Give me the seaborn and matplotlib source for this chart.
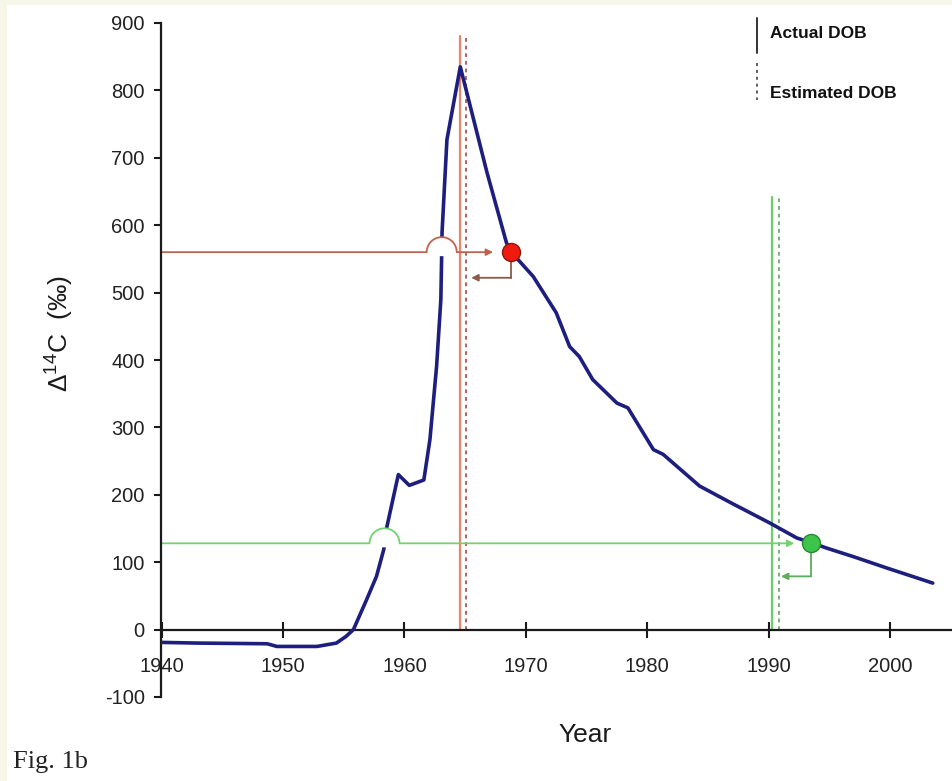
import numpy as np
import pandas as pd
import matplotlib
matplotlib.use("Agg")
import matplotlib.pyplot as plt
from matplotlib.lines import Line2D
from matplotlib.patches import Polygon, Rectangle
import seaborn as sns

# ---- data ----
years = [1940, 1943, 1948.7, 1949.5, 1952.8, 1954.4, 1955.2, 1955.8, 1956.9, 1957.7,
         1958.3, 1958.5, 1959.5, 1960.4, 1961.6, 1962.1, 1962.65, 1963.0, 1963.1,
         1963.5, 1964.6, 1966.8, 1968.4, 1968.8, 1969.5, 1970.6, 1972.5, 1973.6,
         1974.4, 1975.5, 1977.5, 1978.4, 1980.5, 1981.3, 1984.3, 1987.0, 1990.1,
         1992.3, 1993.5, 1994.75, 1997.0, 1999.7, 2003.5]
delta14c = [-19, -20, -21, -25, -25, -20, -10, 0, 45, 79,
            119, 148, 230, 214, 222, 282, 391, 490, 590,
            727, 835, 678, 574, 560, 546, 524, 470, 420,
            405, 371, 336, 329, 267, 260, 213, 187, 158,
            136, 129, 121, 108, 91.5, 69]

# case 1 (red) and case 2 (green)
case_level = [560, 128]          # measured Δ14C
case_year = [1968.8, 1993.5]     # where the measured value meets the falling limb
actual_dob = [1964.55, 1990.25]
estimated_dob = [1965.1, 1990.8]
vline_top = [880, 642]
hline_arrow_end = [1967.3, 1992.1]
elbow_bottom = [522, 79]
elbow_arrow_end = [1965.5, 1991.0]

x_ticks = [1940, 1950, 1960, 1970, 1980, 1990, 2000]
y_ticks = [-100, 0, 100, 200, 300, 400, 500, 600, 700, 800, 900]

# ---- styling ----
sns.set_theme(style="white")
plt.rcParams['font.family'] = ['Liberation Sans', 'DejaVu Sans']
plt.rcParams['mathtext.fontset'] = 'custom'
plt.rcParams['mathtext.rm'] = 'Liberation Sans'

W, H = 953, 781
fig = plt.figure(figsize=(W / 100, H / 100), dpi=100)
fig.patch.set_facecolor('#f7f7e9')
fig.add_artist(Rectangle((7 / W, 0), 1, 1 - 5 / H, transform=fig.transFigure,
                         facecolor='white', edgecolor='none', zorder=-10))

left, right = 161.5 / W, 951 / W
bottom, top = 1 - 697 / H, 1 - 23 / H
ax = fig.add_axes([left, bottom, right - left, top - bottom])
ax.set_facecolor('none')
XMIN, XMAX, YMIN, YMAX = 1940, 2005, -100, 900
ax.set_xlim(XMIN, XMAX)
ax.set_ylim(YMIN, YMAX)

df = pd.DataFrame({"Year": years, "D14C": delta14c})

reds = dict(h='#c0624f', v='#e8866a', vd='#9a3a30', arrow='#d83a2a', elbow='#8a5a48',
            dot='#f01a10', dotedge='#8a1a10')
greens = dict(h='#72d272', v='#6ccf6c', vd='#4e9e4e', arrow='#5cbc5c', elbow='#5cae5c',
              dot='#3cc54a', dotedge='#2a8a30')
palettes = [reds, greens]

# vertical DOB lines and horizontal lines (behind curve)
for i, pal in enumerate(palettes):
    ax.plot([actual_dob[i]] * 2, [0, vline_top[i]], color=pal['v'], lw=1.6, zorder=2)
    ax.plot([estimated_dob[i]] * 2, [0, vline_top[i]], color=pal['vd'], lw=1.1,
            ls=(0, (2.5, 2.5)), zorder=2)
    ax.annotate('', xy=(hline_arrow_end[i], case_level[i]), xytext=(XMIN, case_level[i]),
                arrowprops=dict(arrowstyle='-|>', color=pal['h'], lw=1.3,
                                mutation_scale=10, shrinkA=0, shrinkB=0), zorder=2)
    # elbow arrow from dot down and left
    ax.plot([case_year[i], case_year[i]], [case_level[i], elbow_bottom[i]],
            color=pal['elbow'], lw=1.3, zorder=2)
    ax.annotate('', xy=(elbow_arrow_end[i], elbow_bottom[i]),
                xytext=(case_year[i], elbow_bottom[i]),
                arrowprops=dict(arrowstyle='-|>', color=pal['elbow'], lw=1.3,
                                mutation_scale=10, shrinkA=0, shrinkB=0), zorder=2)

# the bomb curve
sns.lineplot(data=df, x="Year", y="D14C", sort=False, estimator=None,
             color='#1e1e7e', lw=2.6, ax=ax, zorder=3)

# hops where horizontal lines jump over the rising limb
px_per_x = ax.bbox.width / (XMAX - XMIN)
px_per_y = ax.bbox.height / (YMAX - YMIN)
r_px = 15
rx, ry = r_px / px_per_x, r_px / px_per_y
yrs = np.array(years)
vals = np.array(delta14c)
rise = yrs <= 1964.6
for i, pal in enumerate(palettes):
    cx = np.interp(case_level[i], vals[rise], yrs[rise])
    cy = case_level[i]
    t = np.linspace(0, np.pi, 60)
    ax_ = cx + rx * np.cos(t)
    ay_ = cy + ry * np.sin(t)
    poly = np.column_stack([np.r_[ax_, cx - rx, cx + rx],
                            np.r_[ay_, cy - 4 / px_per_y, cy - 4 / px_per_y]])
    ax.add_patch(Polygon(poly, closed=True, facecolor='white', edgecolor='none', zorder=4))
    ax.plot(ax_, ay_, color=pal['h'], lw=1.3, zorder=5)

# measured points
for i, pal in enumerate(palettes):
    ax.plot([case_year[i]], [case_level[i]], 'o', ms=13, mfc=pal['dot'],
            mec=pal['dotedge'], mew=1.0, zorder=6)

# axes styling
for s in ['top', 'right']:
    ax.spines[s].set_visible(False)
ax.spines['bottom'].set_position(('data', 0))
for s in ['left', 'bottom']:
    ax.spines[s].set_color('#1a1a1a')
    ax.spines[s].set_linewidth(1.6)
ax.set_xticks(x_ticks)
ax.set_yticks(y_ticks)
ax.set_xticklabels([str(v) for v in x_ticks])
ax.set_yticklabels([str(v) for v in y_ticks])
ax.tick_params(axis='x', direction='inout', length=11, width=1.5, color='#1a1a1a',
               labelsize=14.5, pad=14, labelcolor='#222222')
ax.tick_params(axis='y', direction='out', length=5, width=1.5, color='#1a1a1a',
               labelsize=14.5, pad=7, labelcolor='#222222')
ax.tick_params(left=True, bottom=True)

ax.set_xlabel('Year', fontsize=19, color='#1a1a1a')
ax.xaxis.set_label_coords((585 - 161.5) / (951 - 161.5), 1 - (723 - 23) / (697 - 23))
ax.set_ylabel(r'$\mathregular{\Delta^{14}}$C  (‰)', fontsize=19, color='#1a1a1a')
ax.yaxis.set_label_coords((76 - 161.5) / (951 - 161.5), (697 - 333) / (697 - 23))

# legend (top right)
fig.add_artist(Line2D([757 / W] * 2, [1 - 18 / H, 1 - 53 / H], transform=fig.transFigure,
                      color='#333333', lw=1.4))
fig.add_artist(Line2D([757 / W] * 2, [1 - 63 / H, 1 - 100 / H], transform=fig.transFigure,
                      color='#333333', lw=1.1, ls=(0, (2, 2.5))))
fig.text(770 / W, 1 - 33 / H, 'Actual DOB', fontsize=12.5, fontweight='bold',
         va='center', ha='left', color='#111111')
fig.text(770 / W, 1 - 94 / H, 'Estimated DOB', fontsize=12.5, fontweight='bold',
         va='center', ha='left', color='#111111')

fig.text(13 / W, 1 - 762 / H, 'Fig. 1b', fontsize=19, family='Liberation Serif',
         va='center', ha='left', color='#222222')

fig.savefig('out.png', dpi=100)
